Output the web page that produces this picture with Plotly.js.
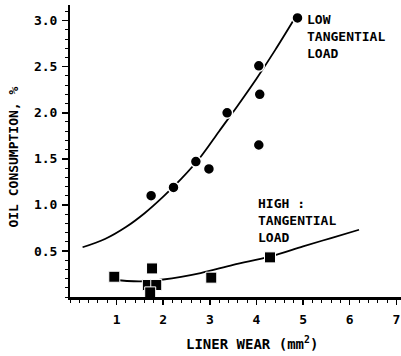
<!DOCTYPE html>
<html>
<head>
<meta charset="utf-8">
<script src="https://cdn.plot.ly/plotly-3.0.1.min.js"></script>
<style>html,body{margin:0;padding:0;background:#fff;}#chart{width:401px;height:356px;}</style>
</head>
<body>
<div id="chart"></div>
<script>
// Low tangential load (circles)
const lowX = [1.74, 2.22, 2.70, 2.98, 3.37, 4.05, 4.07, 4.05, 4.88];
const lowY = [1.10, 1.19, 1.47, 1.39, 2.00, 2.51, 2.20, 1.65, 3.03];
// Low load fitted curve
const lowCurveX = [0.27, 0.75, 1.2, 1.6, 2.0, 2.4, 2.8, 3.2, 3.6, 4.0, 4.4, 4.85];
const lowCurveY = [0.54, 0.63, 0.76, 0.91, 1.09, 1.29, 1.52, 1.80, 2.08, 2.37, 2.68, 3.05];
// High tangential load (squares)
const highX = [0.95, 1.76, 1.67, 1.85, 1.72, 3.03, 4.29];
const highY = [0.22, 0.31, 0.13, 0.13, 0.05, 0.21, 0.43];
// High load fitted curve
const highCurveX = [0.85, 1.5, 2.0, 2.8, 3.5, 4.3, 5.0, 5.6, 6.2];
const highCurveY = [0.19, 0.17, 0.19, 0.26, 0.35, 0.44, 0.55, 0.64, 0.73];
// Axis ticks
const xTicks = [1, 2, 3, 4, 5, 6, 7];
const yTicks = [0.5, 1.0, 1.5, 2.0, 2.5, 3.0];
const yTickText = ['0.5', '1.0', '1.5', '2.0', '2.5', '3.0'];

const FONT = 'DejaVu Sans Mono, Liberation Mono, monospace';

const traces = [
  {x: lowCurveX, y: lowCurveY, mode: 'lines', line: {color: '#000', width: 1.8, shape: 'spline'}, hoverinfo: 'skip'},
  {x: highCurveX, y: highCurveY, mode: 'lines', line: {color: '#000', width: 1.8, shape: 'spline'}, hoverinfo: 'skip'},
  {x: lowX, y: lowY, mode: 'markers', marker: {symbol: 'circle', size: 11, color: '#000', line: {color: '#fff', width: 1.5}}, cliponaxis: false},
  {x: highX, y: highY, mode: 'markers', marker: {symbol: 'square', size: 11, color: '#000', line: {color: '#fff', width: 1}}, cliponaxis: false}
];

const layout = {
  width: 401, height: 356,
  margin: {l: 70, r: 0, t: 5, b: 59},
  paper_bgcolor: '#fff', plot_bgcolor: '#fff',
  showlegend: false,
  font: {family: FONT, size: 13, color: '#000', weight: 'bold'},
  xaxis: {
    range: [0, 7.1], showgrid: false, zeroline: false,
    showline: true, linecolor: '#000', linewidth: 2.5,
    tickvals: xTicks, ticks: 'outside', ticklen: 5, tickwidth: 1.5, tickcolor: '#000',
    ticklabelstandoff: 4,
    tickfont: {family: FONT, size: 13, color: '#000', weight: 'bold'},
    minor: {dtick: 0.2, tick0: 0, ticks: 'outside', ticklen: 3, tickwidth: 1, tickcolor: '#000'}
  },
  yaxis: {
    range: [0, 3.17], showgrid: false, zeroline: false,
    showline: true, linecolor: '#000', linewidth: 2,
    tickvals: yTicks, ticktext: yTickText, ticks: 'outside', ticklen: 6, tickwidth: 1.5, tickcolor: '#000',
    ticklabelstandoff: 2,
    tickfont: {family: FONT, size: 13, color: '#000', weight: 'bold'},
    minor: {dtick: 0.1, tick0: 0, ticks: 'outside', ticklen: 3, tickwidth: 1, tickcolor: '#000'}
  },
  annotations: [
    {xref: 'x', yref: 'y', x: 5.03, y: 3.12, xanchor: 'left', yanchor: 'top', align: 'left', showarrow: false,
     text: 'LOW<br>TANGENTIAL<br>LOAD', font: {family: FONT, size: 13, color: '#000', weight: 'bold'}},
    {xref: 'x', yref: 'y', x: 4.0, y: 1.12, xanchor: 'left', yanchor: 'top', align: 'left', showarrow: false,
     text: 'HIGH :<br>TANGENTIAL<br>LOAD', font: {family: FONT, size: 13, color: '#000', weight: 'bold'}},
    {xref: 'paper', yref: 'paper', x: 0.55, y: -0.158, xanchor: 'center', yanchor: 'middle', showarrow: false,
     text: 'LINER WEAR (mm<sup>2</sup>)', font: {family: FONT, size: 14, color: '#000', weight: 'bold'}},
    {xref: 'paper', yref: 'paper', x: -0.17, y: 0.48, xanchor: 'center', yanchor: 'middle', showarrow: false, textangle: -90,
     text: 'OIL CONSUMPTION, %', font: {family: FONT, size: 13, color: '#000', weight: 'bold'}}
  ]
};

Plotly.newPlot('chart', traces, layout, {displayModeBar: false, staticPlot: true});
</script>
</body>
</html>
